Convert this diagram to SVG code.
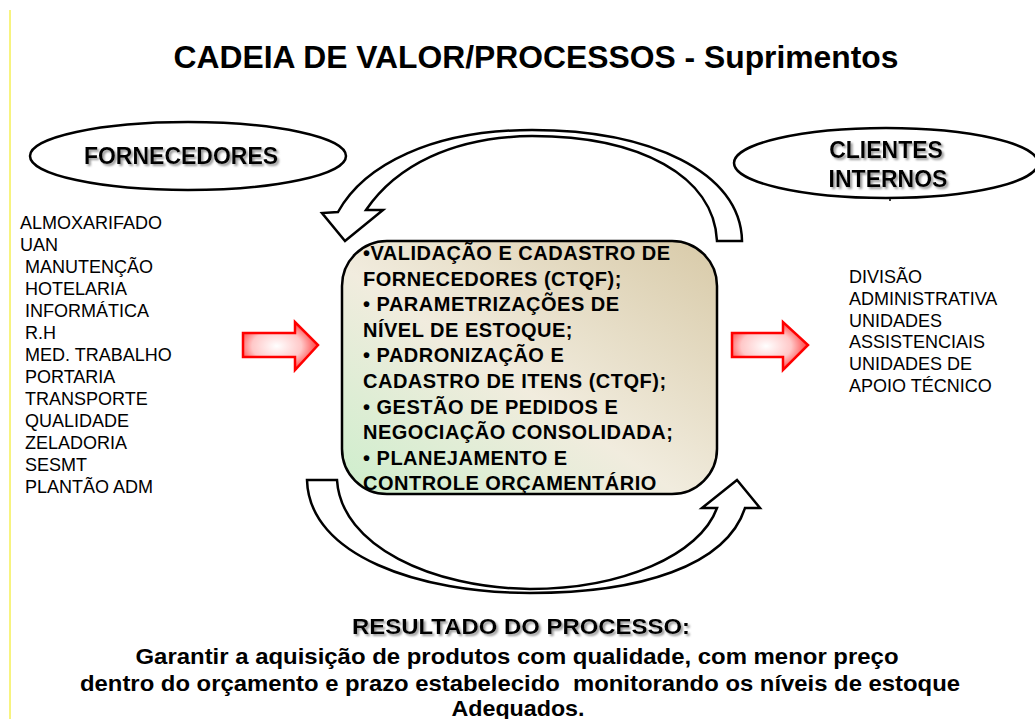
<svg xmlns="http://www.w3.org/2000/svg" width="1035" height="719" viewBox="0 0 1035 719">
<style>
  text { font-family: "Liberation Sans", Arial, sans-serif; fill: #000; }
  .title { font-size: 32px; font-weight: bold; }
  .head { font-size: 23px; font-weight: bold; }
  .list { font-size: 18px; }
  .box { font-size: 20px; font-weight: bold; letter-spacing: 0.5px; }
  .res { font-size: 22px; font-weight: bold; }
  .ell { fill: #fff; stroke: #000; stroke-width: 2.5; }
  .curve { fill: #fff; stroke: #000; stroke-width: 2.5; stroke-linejoin: miter; }
  .red { fill: url(#redGrad); stroke: #ff0000; stroke-width: 2.5; }
</style>
<defs>
  <linearGradient id="boxGrad" x1="0" y1="1" x2="1" y2="0">
    <stop offset="0" stop-color="#cdeecc"/>
    <stop offset="0.45" stop-color="#f1ecde"/>
    <stop offset="1" stop-color="#d8caa8"/>
  </linearGradient>
  <radialGradient id="redGrad" cx="0.45" cy="0.5" r="0.6">
    <stop offset="0" stop-color="#ffffff"/>
    <stop offset="0.55" stop-color="#ffc8c8"/>
    <stop offset="1" stop-color="#ff2020"/>
  </radialGradient>
  <filter id="shadow" x="-10%" y="-30%" width="120%" height="160%">
    <feDropShadow dx="2" dy="2" stdDeviation="1" flood-color="#808080" flood-opacity="0.8"/>
  </filter>
</defs>
<rect width="1035" height="719" fill="#fff"/>
<line x1="10" y1="10" x2="10" y2="719" stroke="#f0e800" stroke-width="1"/>

<text class="title" x="536" y="68" text-anchor="middle" textLength="725" lengthAdjust="spacingAndGlyphs">CADEIA DE VALOR/PROCESSOS - Suprimentos</text>

<g id="connectors">
  <path id="arrow-top" class="curve" d="M 742 241 C 741 172, 650 130, 532 130 C 432 130, 364 165, 338 212 L 322 213 L 345 241 L 383 210 L 366 210 C 396 166, 452 137, 532 136 C 640 136, 714 176, 717 241 Z"/>
  <path id="arrow-bottom" class="curve" d="M 307 480 L 337 480 C 341 546, 432 588, 530 589 C 622 589, 700 555, 717 508 L 702 508 L 737 480 L 760 508 L 745 508 C 726 566, 640 593, 530 593 C 420 593, 309 556, 307 480 Z"/>
  <path id="arrow-left" class="red" d="M 243 333 L 295 333 L 295 322 L 318 345 L 295 370 L 295 357 L 243 357 Z"/>
  <path id="arrow-right" class="red" d="M 732 333 L 783 333 L 783 322 L 808 345 L 783 370 L 783 357 L 732 357 Z"/>
</g>

<g id="fornecedores">
  <ellipse class="ell" cx="188" cy="156" rx="158" ry="34"/>
  <text class="head" x="181" y="164" text-anchor="middle" filter="url(#shadow)">FORNECEDORES</text>
</g>

<g id="clientes">
  <ellipse class="ell" cx="886" cy="163" rx="152" ry="35"/>
  <line x1="890" y1="198" x2="890" y2="201" stroke="#000" stroke-width="1.5"/>
  <text class="head" x="886" y="158" text-anchor="middle" filter="url(#shadow)">CLIENTES</text>
  <text class="head" x="888" y="187" text-anchor="middle" filter="url(#shadow)">INTERNOS</text>
</g>

<g id="fornecedores-lista">
  <text class="list" x="20" y="229">ALMOXARIFADO</text>
  <text class="list" x="20" y="251">UAN</text>
  <text class="list" x="25" y="273">MANUTENÇÃO</text>
  <text class="list" x="25" y="295">HOTELARIA</text>
  <text class="list" x="25" y="317">INFORMÁTICA</text>
  <text class="list" x="25" y="339">R.H</text>
  <text class="list" x="25" y="361">MED. TRABALHO</text>
  <text class="list" x="25" y="383">PORTARIA</text>
  <text class="list" x="25" y="405">TRANSPORTE</text>
  <text class="list" x="25" y="427">QUALIDADE</text>
  <text class="list" x="25" y="449">ZELADORIA</text>
  <text class="list" x="25" y="471">SESMT</text>
  <text class="list" x="25" y="493">PLANTÃO ADM</text>
</g>

<g id="clientes-lista">
  <text class="list" x="849" y="283">DIVISÃO</text>
  <text class="list" x="849" y="305">ADMINISTRATIVA</text>
  <text class="list" x="849" y="327">UNIDADES</text>
  <text class="list" x="849" y="348">ASSISTENCIAIS</text>
  <text class="list" x="849" y="370">UNIDADES DE</text>
  <text class="list" x="849" y="392">APOIO TÉCNICO</text>
</g>

<g id="processo">
  <rect x="342" y="241" width="375" height="253" rx="45" ry="45" fill="url(#boxGrad)" stroke="#000" stroke-width="2.5"/>
  <text class="box" x="363" y="260">•VALIDAÇÃO E CADASTRO DE</text>
  <text class="box" x="363" y="285.5">FORNECEDORES (CTQF);</text>
  <text class="box" x="363" y="311">• PARAMETRIZAÇÕES DE</text>
  <text class="box" x="363" y="336.5">NÍVEL DE ESTOQUE;</text>
  <text class="box" x="363" y="362">• PADRONIZAÇÃO E</text>
  <text class="box" x="363" y="388">CADASTRO DE ITENS (CTQF);</text>
  <text class="box" x="363" y="413.5">• GESTÃO DE PEDIDOS E</text>
  <text class="box" x="363" y="439">NEGOCIAÇÃO CONSOLIDADA;</text>
  <text class="box" x="363" y="464.5">• PLANEJAMENTO E</text>
  <text class="box" x="363" y="490">CONTROLE ORÇAMENTÁRIO</text>
</g>

<g id="resultado">
  <text class="res" x="521" y="634" text-anchor="middle" textLength="338" lengthAdjust="spacingAndGlyphs" filter="url(#shadow)">RESULTADO DO PROCESSO:</text>
  <text class="res" x="517" y="664" text-anchor="middle" textLength="763" lengthAdjust="spacingAndGlyphs">Garantir a aquisição de produtos com qualidade, com menor preço</text>
  <text class="res" x="520" y="691" text-anchor="middle" textLength="880" lengthAdjust="spacingAndGlyphs">dentro do orçamento e prazo estabelecido&#160; monitorando os níveis de estoque</text>
  <text class="res" x="518" y="716" text-anchor="middle" textLength="133" lengthAdjust="spacingAndGlyphs">Adequados.</text>
</g>
</svg>
